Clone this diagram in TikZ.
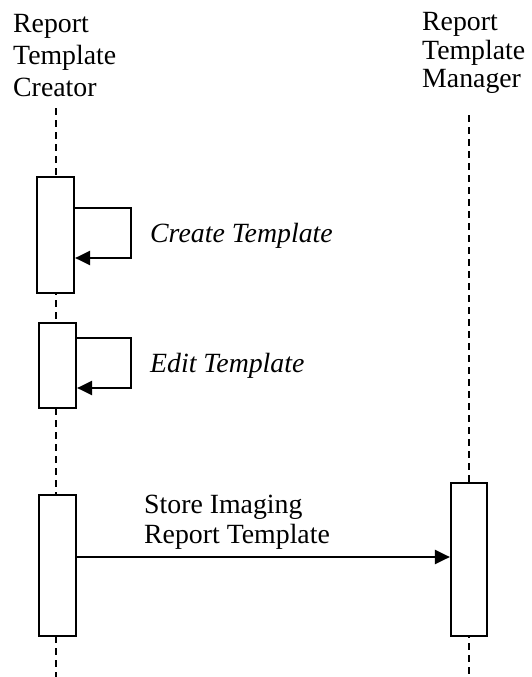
\documentclass[tikz,border=0pt]{standalone}
\usepackage{fontspec}
\setmainfont{Liberation Serif}
\usetikzlibrary{arrows.meta}

\tikzset{
  lifeline/.style={line width=2pt, dash pattern=on 7pt off 5pt},
  actbox/.style={draw, fill=white, line width=2.2pt, inner sep=0pt, minimum width=37pt},
  msg/.style={line width=2.2pt, -{Triangle[length=15pt,width=14pt]}},
  actor/.style={align=left, inner sep=0pt, anchor=north west},
  msglabel/.style={inner sep=0pt, font=\fontsize{27.8}{30}\selectfont}
}

\begin{document}
\begin{tikzpicture}[x=1pt,y=-1pt]
  \useasboundingbox (0,0) rectangle (532,677);

  % Actors
  \node[actor, font=\fontsize{27.8}{32}\selectfont] (creator) at (13,14)
    {Report\\Template\\Creator};
  \node[actor, font=\fontsize{27.8}{28.7}\selectfont] (manager) at (422,12)
    {Report\\Template\\Manager};

  % Draw the lifelines
  \coordinate (lc) at (56,108);
  \coordinate (lm) at (469,115);
  \draw[lifeline] (lc) -- (lc |- 0,677);
  \draw[lifeline] (lm) -- (lm |- 0,677);

  % Activation boxes
  \node[actbox, minimum height=116pt] (c1) at (55.5,235) {};
  \node[actbox, minimum height=85pt]  (c2) at (57.5,365.5) {};
  \node[actbox, minimum height=141pt] (c3) at (57.5,565.5) {};
  \node[actbox, minimum width=36pt, minimum height=153pt] (m1) at (469,559.5) {};

  % Self messages
  \coordinate (s1a) at (131,208);
  \coordinate (s1b) at (131,258);
  \coordinate (s2a) at (131,338);
  \coordinate (s2b) at (131,388);
  \draw[msg] (c1.east |- s1a) -- (s1a) -- (s1b) -- (c1.east |- s1b);
  \draw[msg] (c2.east |- s2a) -- (s2a) -- (s2b) -- (c2.east |- s2b);
  \node[msglabel, anchor=base west, font=\fontsize{27.8}{30}\selectfont\itshape]
    (create) at (150,242) {Create Template};
  \node[msglabel, anchor=base west, font=\fontsize{27.8}{30}\selectfont\itshape]
    (edit) at (150,372) {Edit Template};

  % Store message
  \coordinate (st) at (0,557);
  \draw[msg] (c3.east |- st) -- (m1.west |- st);
  \node[msglabel, align=left, anchor=north west] (store) at (144,495)
    {Store Imaging\\Report Template};

\end{tikzpicture}
\end{document}
